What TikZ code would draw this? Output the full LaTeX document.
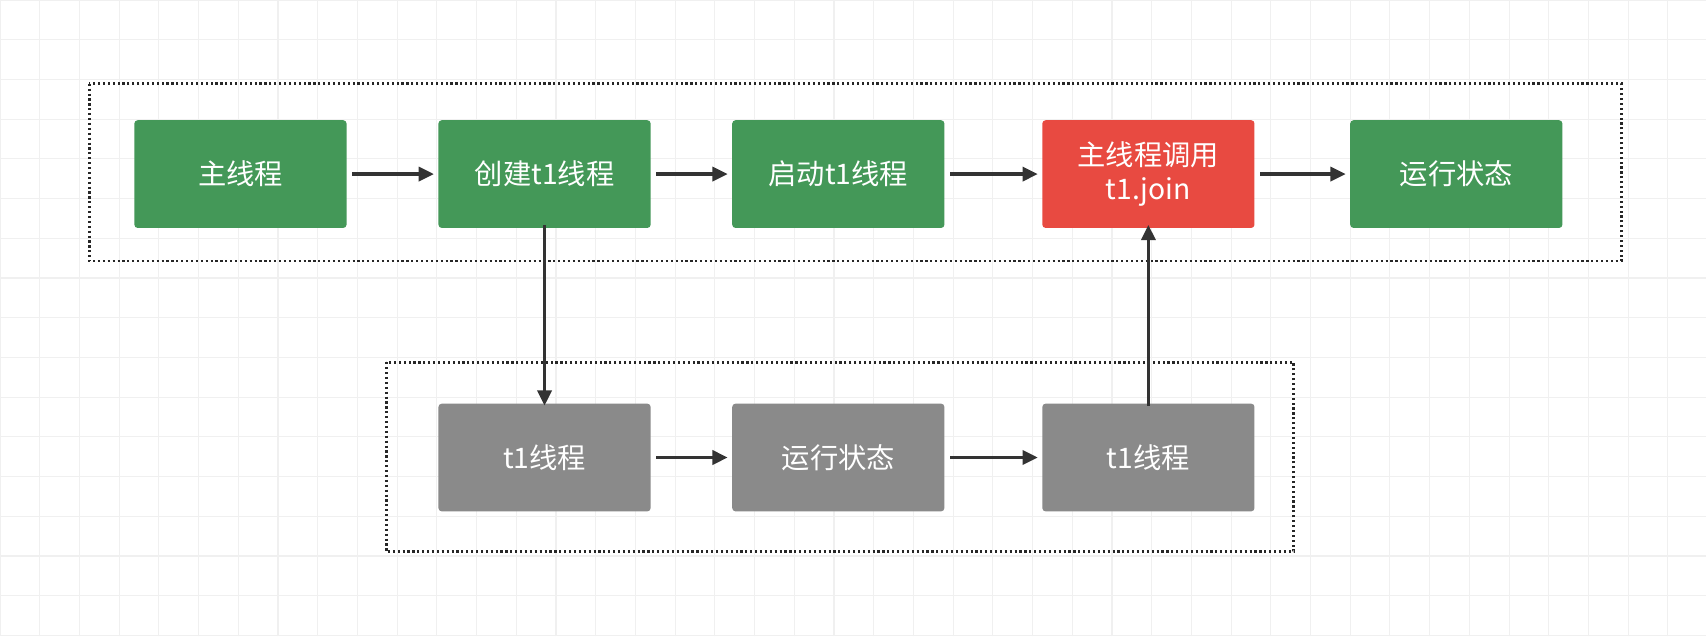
\documentclass[tikz,border=0pt]{standalone}
\usepackage{fontspec}
\setmainfont{Noto Sans CJK SC}
\usetikzlibrary{arrows.meta}
\definecolor{okgreen}{HTML}{449858}
\definecolor{hotred}{HTML}{E84A41}
\definecolor{midgray}{HTML}{8A8A8A}
\tikzset{
  box/.style={rectangle, rounded corners=3pt, minimum width=195pt, minimum height=99pt,
    text=white, font=\fontsize{26}{32}\selectfont, align=center, inner sep=0pt},
  flow/.style={-{Triangle[length=14pt,width=13pt]}, line width=3pt, draw=black!80},
  frame/.style={draw=black!85, line width=2.5pt, dash pattern=on 2pt off 2.5pt}
}
\begin{document}
\begin{tikzpicture}[x=1pt,y=-1pt]
\useasboundingbox (0,0) rectangle (1568,585);
\fill[white] (0,0) rectangle (1568,585);
\draw[black!6, line width=1pt, step=36.5pt] (0,0) grid (1568,585);
% frames
\draw[frame] (82,77) rectangle (1490,240);
\draw[frame] (355,333) rectangle (1189,507);
% main thread row
\node[box, fill=okgreen] (m1) at (221,160) {主线程};
\node[box, fill=okgreen] (m2) at (500.5,160) {创建t1线程};
\node[box, fill=okgreen] (m3) at (770.5,160) {启动t1线程};
\node[box, fill=hotred]  (m4) at (1055.5,160) {主线程调用\\t1.join};
\node[box, fill=okgreen] (m5) at (1338.5,160) {运行状态};
% t1 row
\node[box, fill=midgray] (t1) at (500.5,420.5) {t1线程};
\node[box, fill=midgray] (t2) at (770.5,420.5) {运行状态};
\node[box, fill=midgray] (t3) at (1055.5,420.5) {t1线程};
% arrows
\draw[flow] ([xshift=5pt]m1.east) -- ([xshift=-4pt]m2.west);
\draw[flow] ([xshift=5pt]m2.east) -- ([xshift=-4pt]m3.west);
\draw[flow] ([xshift=5pt]m3.east) -- ([xshift=-4pt]m4.west);
\draw[flow] ([xshift=5pt]m4.east) -- ([xshift=-4pt]m5.west);
\draw[flow] ([xshift=5pt]t1.east) -- ([xshift=-4pt]t2.west);
\draw[flow] ([xshift=5pt]t2.east) -- ([xshift=-4pt]t3.west);
\draw[flow] ([yshift=3pt]m2.south) -- ([yshift=-2pt]t1.north);
\draw[flow] ([yshift=-2pt]t3.north) -- ([yshift=3pt]m4.south);
\end{tikzpicture}
\end{document}
